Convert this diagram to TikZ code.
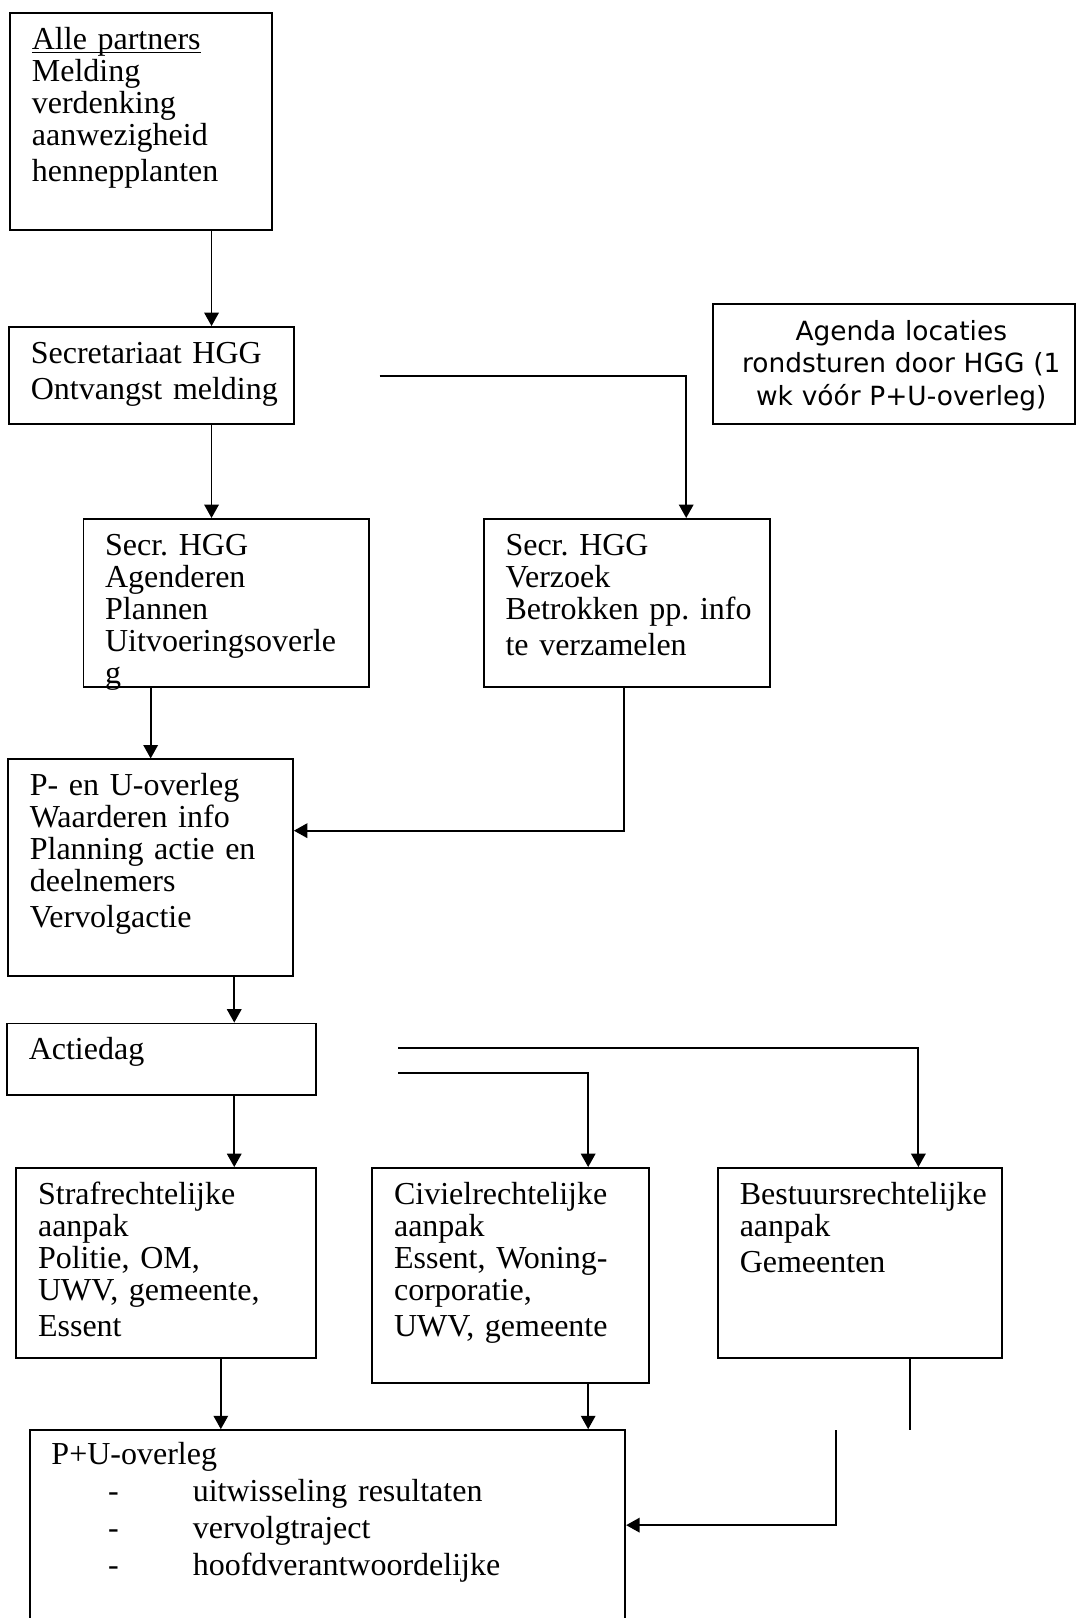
\documentclass[tikz,border=0pt]{standalone}
\usepackage{fontspec}
\setmainfont{Liberation Serif}
\newfontfamily\agendafont{DejaVu Sans}
\usetikzlibrary{arrows.meta}
\hyphenpenalty=10000
\frenchspacing

\begin{document}
\begin{tikzpicture}[x=0.5pt, y=-0.5pt, line width=0.9pt, >={Triangle[length=6.5pt,width=7pt]},
		box/.style={draw, anchor=north west, align=left, inner xsep=0pt, inner ysep=7pt, text height=10.5pt, font=\fontsize{15.5}{15.5}\selectfont,
			execute at begin node={\leftskip=10.5pt}, execute at end node={\endgraf}}]
	\clip (0,0) rectangle (1046,1568);

	\node[box, text width=127pt, text depth=80.5pt] (melding) at (9,12) {\underline{\smash{Alle partners}}\\Melding\\verdenking\\aanwezigheid\\[2pt]hennepplanten};
	\node[box, text width=138pt, text depth=22.5pt] (secr) at (8,316) {Secretariaat HGG\\[2pt]Ontvangst melding};
	\node[draw, anchor=north west, align=center, inner xsep=6pt, inner ysep=7pt, text height=10.5pt, text width=163.5pt, text depth=33.5pt, font=\agendafont\fontsize{12.8}{15.75}\selectfont] (agenda) at (690,294)
		{\hspace*{7pt}Agenda locaties\\\hspace*{7pt}rondsturen door HGG (1\\\hspace*{7pt}wk vóór P+U-overleg)};
	\node[box, text width=138.5pt, text depth=57pt] (agenderen) at (80,502) {Secr. HGG\\Agenderen\\Plannen\\Uitvoeringsoverle\\g};
	\node[box, text width=138.5pt, text depth=57pt] (verzoek) at (468,502) {Secr. HGG\\Verzoek\\Betrokken pp. info\\[2pt]te verzamelen};
	\node[box, text width=138pt, text depth=80.5pt] (poverleg) at (7,735) {P- en U-overleg\\Waarderen info\\Planning actie en\\deelnemers\\[2pt]Vervolgactie};
	\node[box, text width=149.5pt, text depth=10pt] (actiedag) at (6,991) {Actiedag};
	\node[box, text width=145pt, text depth=67.5pt] (straf) at (15,1131) {Strafrechtelijke\\aanpak\\Politie, OM,\\UWV, gemeente,\\[2pt]Essent};
	\node[box, text width=134pt, text depth=79.5pt] (civiel) at (360,1131) {Civielrechtelijke\\aanpak\\Essent, Woning-\\corporatie,\\[2pt]UWV, gemeente};
	\node[box, text width=137.5pt, text depth=67.5pt] (bestuur) at (695,1131) {Bestuursrechtelijke\\aanpak\\[2pt]Gemeenten};
	\node[box, text width=288.5pt, text depth=80.5pt, inner ysep=6pt] (puoverleg) at (28,1385) {P+U-overleg\\[2.5pt]
		\hspace*{27.5pt}\makebox[41pt][l]{-}uitwisseling resultaten\\[2.5pt]
		\hspace*{27.5pt}\makebox[41pt][l]{-}vervolgtraject\\[2.5pt]
		\hspace*{27.5pt}\makebox[41pt][l]{-}hoofdverantwoordelijke};

	\coordinate (vrij1) at (368,364);
	\coordinate (vrij2) at (386,1016);
	\coordinate (vrij3) at (386,1040);
	\coordinate (los1) at (882,1386);
	\coordinate (los2) at (810,1386);

	\draw[->] (melding.south -| 205,0) -- (secr.north -| 205,0);
	\draw[->] (secr.south -| 205,0) -- (agenderen.north -| 205,0);
	\draw[->] (vrij1) -| (verzoek.north -| 665,0);
	\draw[->] (agenderen.south -| 146,0) -- (poverleg.north -| 146,0);
	\draw[->] (verzoek.south -| 605,0) |- (poverleg.east |- 0,805);
	\draw[->] (poverleg.south -| 227,0) -- (actiedag.north -| 227,0);
	\draw[->] (vrij2) -| (bestuur.north -| 890,0);
	\draw[->] (vrij3) -| (civiel.north -| 570,0);
	\draw[->] (actiedag.south -| 227,0) -- (straf.north -| 227,0);
	\draw[->] (straf.south -| 214,0) -- (puoverleg.north -| 214,0);
	\draw[->] (civiel.south -| 570,0) -- (puoverleg.north -| 570,0);
	\draw (bestuur.south -| 882,0) -- (los1);
	\draw[->] (los2) |- (puoverleg.east |- 0,1478);
\end{tikzpicture}
\end{document}
